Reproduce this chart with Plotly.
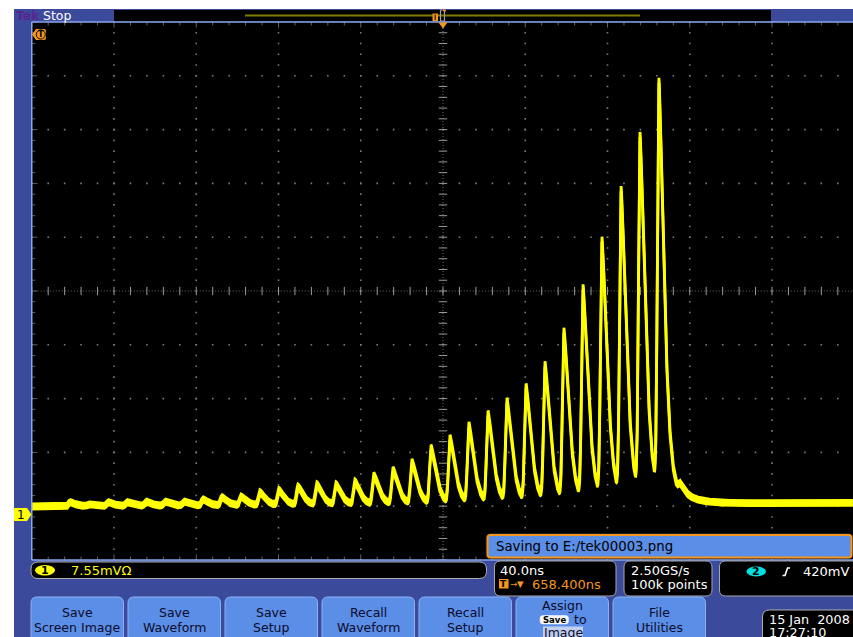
import numpy as np
import plotly.graph_objects as go

W, H = 853, 637
FONT = "DejaVu Sans"

# ---------------- scope settings ----------------
ns_per_div = 40.0
mv_per_div = 7.55
h_divs = 10
v_divs = 10
ch1_position_div = -4.15          # ground marker "1" below screen centre
timebase_text = "40.0ns"
trigger_delay_text = "658.400ns"
sample_rate_text = "2.50GS/s"
record_text = "100k points"
ch1_text = "7.55mV\u03a9"
trigger_level_text = "420mV"
saving_text = "Saving to E:/tek00003.png"
date_text = "15 Jan  2008"
time_text = "17:27:10"

# ---------------- pulse train ----------------
peak_times_ns = [-181.4, -172.2, -162.9, -153.7, -144.4, -135.2, -126.0, -116.7,
                 -107.5, -98.2, -89.0, -79.8, -70.5, -61.3, -52.0, -42.8,
                 -33.6, -24.3, -15.1, -5.8, 3.4, 12.6, 21.9, 31.1,
                 40.4, 49.6, 58.8, 68.1, 77.3, 86.6, 95.8, 105.0]
peak_levels_mV = [1.7, 1.4, 1.7, 1.7, 1.8, 1.8, 1.8, 2.1,
                  2.4, 2.5, 3.1, 3.4, 3.9, 4.2, 4.2, 4.6,
                  5.5, 6.3, 7.4, 9.4, 10.8, 12.6, 14.2, 16.0,
                  18.0, 21.1, 25.8, 31.9, 38.6, 45.7, 53.3, 60.9]
afterpulse_times_ns = [115.3]
afterpulse_levels_mV = [4.4]
baseline_t_ns = [-200.0, 200.0]
baseline_mV = [1.1, 1.6]
pulse_rise_ns = 0.7
pulse_decay_ns = 3.4
tail_fraction = 0.07
tail_decay_ns = 8.0
noise_band_mV = 0.36

button_labels = [["Save", "Screen Image"], ["Save", "Waveform"], ["Save", "Setup"],
                 ["Recall", "Waveform"], ["Recall", "Setup"], ["Assign", "to", "Image"],
                 ["File", "Utilities"]]

# ---------------- screen geometry (pixels) ----------------
GX0, DIVX = 31.75, 82.25
GY0, DIVY = 22.0, 53.8
GY1 = GY0 + v_divs * DIVY

t_left = -h_divs / 2 * ns_per_div
t_right = t_left + (W - GX0) / DIVX * ns_per_div      # graticule runs past the picture edge
y_bot = (-v_divs / 2 - ch1_position_div) * mv_per_div
y_top = (v_divs / 2 - ch1_position_div) * mv_per_div
y_mid = (0 - ch1_position_div) * mv_per_div


def shape_fn(dt):
    dpos = np.clip(dt, 0, None)
    fall = (1 - tail_fraction) * np.exp(-(dpos / pulse_decay_ns) ** 1.5) + \
        tail_fraction * np.exp(-dpos / tail_decay_ns)
    return np.where(dt < 0, np.exp(-0.5 * (dt / pulse_rise_ns) ** 2), fall)


# ---------------- build waveform from the read peaks ----------------
times = np.array(peak_times_ns + afterpulse_times_ns)
levels = np.array(peak_levels_mV + afterpulse_levels_mV)
order = np.argsort(times)
times, levels = times[order], levels[order]
amps = []
for k, tk in enumerate(times):
    resid = sum(a * float(shape_fn(np.array(tk - tj))) for a, tj in zip(amps, times[:k]))
    amps.append(levels[k] - np.interp(tk, baseline_t_ns, baseline_mV) - resid)

t = np.arange(t_left, t_right, 0.05)
sig = np.interp(t, baseline_t_ns, baseline_mV)
for a, tk in zip(amps, times):
    sig = sig + a * shape_fn(t - tk)

fig = go.Figure()

# ---------------- graticule ----------------
GRID = "#7a7a7a"
vx, vy = [], []
for k in range(1, h_divs):
    if k == h_divs // 2:
        continue
    for j in range(v_divs * 5 + 1):
        vx.append(t_left + k * ns_per_div)
        vy.append(y_bot + j * 0.2 * mv_per_div)
for k in range(1, v_divs):
    if k == v_divs // 2:
        continue
    for i in range(h_divs * 5 + 1):
        vx.append(t_left + i * 0.2 * ns_per_div)
        vy.append(y_bot + k * mv_per_div)
fig.add_trace(go.Scatter(x=vx, y=vy, mode="markers", hoverinfo="skip",
                         marker=dict(symbol="square", size=1.6, color=GRID, line=dict(width=0))))

fig.add_trace(go.Scatter(x=[0, 0], y=[y_bot, y_top], mode="lines", hoverinfo="skip",
                         line=dict(color="#6a6a6a", width=1, dash="1px,2px")))
fig.add_trace(go.Scatter(x=[t_left, t_right], y=[y_mid, y_mid], mode="lines", hoverinfo="skip",
                         line=dict(color="#6a6a6a", width=1, dash="1px,2px")))
cy = [y_bot + j * 0.2 * mv_per_div for j in range(v_divs * 5 + 1)]
fig.add_trace(go.Scatter(x=[0] * len(cy), y=cy, mode="markers", hoverinfo="skip",
                         marker=dict(symbol="line-ew", size=6, line=dict(width=1, color="#9a9a9a"))))
cx = [t_left + i * 0.2 * ns_per_div for i in range(h_divs * 5 + 1)]
fig.add_trace(go.Scatter(x=cx, y=[y_mid] * len(cx), mode="markers", hoverinfo="skip",
                         marker=dict(symbol="line-ns", size=6, line=dict(width=1, color="#9a9a9a"))))
edge_sz_x = [8 if i % 5 == 0 else 5 for i in range(len(cx))]
edge_sz_y = [8 if j % 5 == 0 else 5 for j in range(len(cy))]
for yy in (y_top, y_bot):
    fig.add_trace(go.Scatter(x=cx, y=[yy] * len(cx), mode="markers", hoverinfo="skip",
                             marker=dict(symbol="line-ns", size=edge_sz_x, line=dict(width=1, color="#8a8a8a"))))
fig.add_trace(go.Scatter(x=[t_left] * len(cy), y=cy, mode="markers", hoverinfo="skip",
                         marker=dict(symbol="line-ew", size=edge_sz_y, line=dict(width=1, color="#8a8a8a"))))

# ---------------- waveform ----------------
YEL = "#ffff00"
fig.add_trace(go.Scatter(x=t, y=sig - noise_band_mV, mode="lines", hoverinfo="skip",
                         line=dict(color=YEL, width=2.8)))
fig.add_trace(go.Scatter(x=t, y=sig + noise_band_mV, mode="lines", hoverinfo="skip",
                         fill="tonexty", fillcolor=YEL, line=dict(color=YEL, width=2.8)))


# ---------------- helpers for the instrument chrome (pixels) ----------------
def fx(x):
    return x / W


def fy(y):
    return 1 - y / H


def P(x, y):
    return f"{fx(x):.5f},{fy(y):.5f}"


def rrect(x0, y0, x1, y1, r):
    return (f"M {P(x0 + r, y0)} L {P(x1 - r, y0)} Q {P(x1, y0)} {P(x1, y0 + r)} "
            f"L {P(x1, y1 - r)} Q {P(x1, y1)} {P(x1 - r, y1)} L {P(x0 + r, y1)} "
            f"Q {P(x0, y1)} {P(x0, y1 - r)} L {P(x0, y0 + r)} Q {P(x0, y0)} {P(x0 + r, y0)} Z")


def rect(x0, y0, x1, y1, fill, line=None, lw=0, layer="below"):
    return dict(type="rect", xref="paper", yref="paper", x0=fx(x0), x1=fx(x1),
                y0=fy(y1), y1=fy(y0), fillcolor=fill, layer=layer,
                line=dict(width=lw, color=line or fill))


def path(d, fill, line=None, lw=0, layer="above"):
    return dict(type="path", xref="paper", yref="paper", path=d, fillcolor=fill, layer=layer,
                line=dict(width=lw, color=line or fill))


def ellipse(x0, y0, x1, y1, fill, line=None, lw=0, layer="above"):
    return dict(type="circle", xref="paper", yref="paper", x0=fx(x0), x1=fx(x1),
                y0=fy(y1), y1=fy(y0), fillcolor=fill, layer=layer,
                line=dict(width=lw, color=line or fill))


def seg(x0, y0, x1, y1, color, lw=1, layer="above"):
    return dict(type="line", xref="paper", yref="paper", x0=fx(x0), x1=fx(x1),
                y0=fy(y0), y1=fy(y1), layer=layer, line=dict(width=lw, color=color))


anns = []


def label(x, y, text, size=13, color="white", anchor="left", bold=False):
    anns.append(dict(x=fx(x), y=fy(y), xref="paper", yref="paper",
                     text=f"<b>{text}</b>" if bold else text, showarrow=False,
                     xanchor=anchor, yanchor="middle", borderpad=0,
                     font=dict(family=FONT, size=size, color=color)))


BLUE = "#3b4a9b"
BTN = "#5b8ee6"
ORANGE = "#f5961e"
LBLUE = "#86a6ea"
shapes = []
shapes.append(rect(14, 9, 870, 660, BLUE))
shapes.append(rect(GX0, GY0, 870, GY1, "#000000"))
# top record view
shapes.append(rect(114, 10, 771, 21.5, "#000000"))
shapes.append(seg(245, 15.5, 640, 15.5, "#7c7c00", 2))
shapes.append(rect(432.5, 13.5, 438, 21, ORANGE, layer="above"))
shapes.append(seg(435.2, 14.5, 435.2, 20, "#000000", 1))
shapes.append(rect(440.5, 10, 444.5, 21, "rgba(0,0,0,0)", "#a0a0a0", 1.2, layer="above"))
shapes.append(seg(443, 10.5, 446, 10.5, ORANGE, 1.5))
# frame borders
shapes.append(seg(GX0, GY0, 870, GY0, LBLUE, 1.5))
shapes.append(seg(GX0, GY0, GX0, GY1, LBLUE, 1.5))
shapes.append(seg(GX0, GY1, 870, GY1, LBLUE, 1.5))
# trigger position triangle
shapes.append(path(f"M {P(438.5, 22.5)} L {P(447.5, 22.5)} L {P(443, 28.5)} Z", ORANGE))
# trigger level tag (top-left)
shapes.append(path(f"M {P(32, 34.5)} L {P(36, 29)} L {P(44, 29)} Q {P(46, 29)} {P(46, 31)} "
                   f"L {P(46, 38)} Q {P(46, 40)} {P(44, 40)} L {P(36, 40)} Z", ORANGE))
shapes.append(ellipse(36.3, 29.9, 45.3, 39.1, "rgba(0,0,0,0)", "#000000", 1))
label(40.8, 34.6, "T", 8, "#000000", "center", bold=True)
# channel 1 ground marker
shapes.append(path(f"M {P(14, 508)} L {P(27, 508)} L {P(31.5, 514.5)} L {P(27, 521)} L {P(14, 521)} Z",
                   YEL))
label(20.5, 515, "1", 12, "#000000", "center")

# Tek Stop
label(14.5, 15.8, "Tek", 12.5, "#5a2590", bold=True)
label(41.5, 15.8, "Stop", 12.5, "#ffffff")

# saving message box
shapes.append(path(rrect(486, 533.5, 852.5, 558.5, 4), "#1a1a1a", "#1a1a1a", 1))
shapes.append(path(rrect(487.5, 535, 851.5, 557.5, 3), BTN, ORANGE, 2))
label(495, 546.5, saving_text, 13.3, "#000000")

# channel readout
shapes.append(path(rrect(31, 562, 486.5, 578.5, 7), "#000000", "#b0b0b0", 1))
shapes.append(ellipse(35, 565, 55, 575.5, YEL))
label(45, 570.5, "1", 11, "#000000", "center", bold=True)
label(70, 570.5, ch1_text, 13, YEL)

# timebase box
shapes.append(path(rrect(494.5, 561, 616, 596, 6), "#000000", "#a8a8a8", 1))
label(499, 570.5, timebase_text, 13, "#ffffff")
shapes.append(rect(499, 579, 508.5, 588.5, ORANGE, layer="above"))
label(503.8, 584, "T", 9, "#000000", "center", bold=True)
label(509, 584, "\u2192\u25bc", 8.5, ORANGE)
label(531, 584, trigger_delay_text, 13, ORANGE)

# sample rate box
shapes.append(path(rrect(624, 561, 712, 596, 6), "#000000", "#a8a8a8", 1))
label(629.5, 570.5, sample_rate_text, 13, "#ffffff")
label(629.5, 584, record_text, 13, "#ffffff")

# trigger box
shapes.append(path(rrect(719.5, 561, 866, 596, 6), "#000000", "#a8a8a8", 1))
shapes.append(ellipse(746.5, 566.5, 766, 576.5, "#00e0e0"))
label(756.3, 571.5, "2", 11, "#000000", "center", bold=True)
shapes.append(path(f"M {P(782.5, 575.5)} L {P(785, 575.5)} L {P(787.5, 568)} L {P(790, 568)}",
                   "rgba(0,0,0,0)", "#ffffff", 1.6))
label(802, 571, trigger_level_text, 13, "#ffffff")

# soft buttons
for i, lines in enumerate(button_labels):
    x0 = 31 + i * 97
    x1 = x0 + 92.5
    xc = (x0 + x1) / 2
    shapes.append(path(rrect(x0, 597, x1, 660, 6), BTN, "#8fb2f2", 1))
    if len(lines) == 2:
        label(xc, 612.5, lines[0], 12.5, "#0b0b2a", "center")
        label(xc, 627, lines[1], 12.5, "#0b0b2a", "center")
    else:
        label(xc, 605, lines[0], 12.5, "#0b0b2a", "center")
        shapes.append(path(rrect(540, 615.5, 568.5, 624, 3), "#f4f4f4", "#ffffff", 0.5))
        label(554.2, 620, "Save", 8.5, "#000000", "center", bold=True)
        label(573, 619.5, lines[1], 12.5, "#0b0b2a")
        shapes.append(rect(543, 626.5, 583, 645, "#c3cff0", layer="above"))
        label(563, 632.5, lines[2], 12.5, "#0b0b2a", "center")

# date box
shapes.append(path(rrect(762.5, 610, 870, 660, 7), "#000000", "#b0b0b0", 1))
label(768, 619.5, date_text, 12.8, "#ffffff")
label(768, 632, time_text, 12.8, "#ffffff")

fig.update_layout(
    width=W, height=H, margin=dict(l=0, r=0, t=0, b=0),
    paper_bgcolor="#ffffff", plot_bgcolor="#000000",
    showlegend=False, font=dict(family=FONT), hovermode=False,
    xaxis=dict(domain=[fx(GX0), 1], range=[t_left, t_right], showgrid=False, zeroline=False,
               showticklabels=False, ticks="", showline=False, fixedrange=True),
    yaxis=dict(domain=[fy(GY1), fy(GY0)], range=[y_bot, y_top], showgrid=False,
               zeroline=False, showticklabels=False, ticks="", showline=False, fixedrange=True),
    shapes=shapes, annotations=anns,
)
fig.write_html("out.html", config={"displayModeBar": False, "staticPlot": True},
               post_script="document.body.style.margin='0';document.body.style.overflow='hidden';")
